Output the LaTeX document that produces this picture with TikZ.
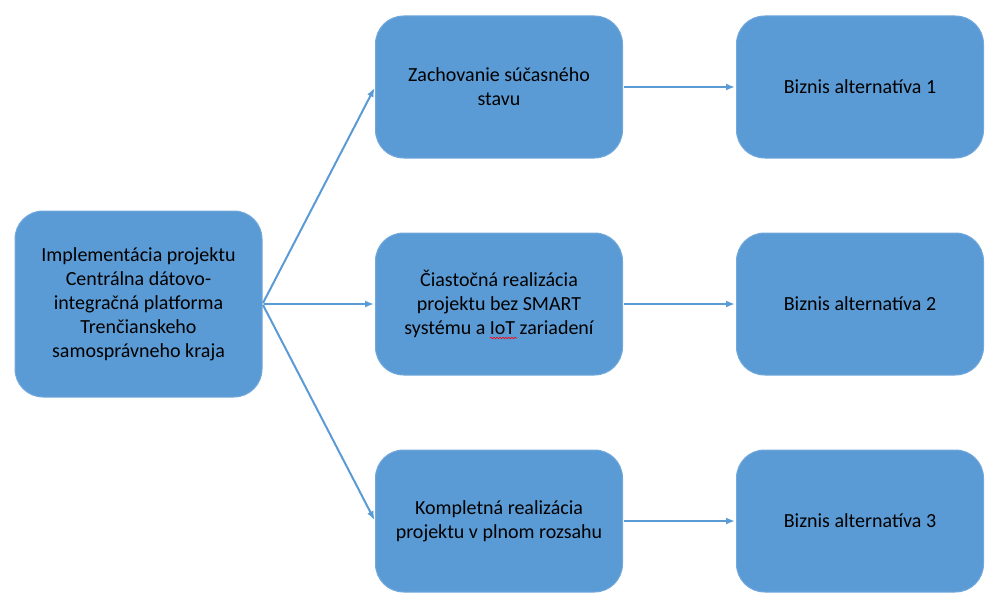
\documentclass[tikz,border=0pt]{standalone}
\usepackage{fontspec}
\setmainfont{Carlito}
\usepackage{xcolor}
\usetikzlibrary{arrows.meta, positioning, calc, decorations.pathmorphing}
\definecolor{boxblue}{HTML}{5B9BD5}
\definecolor{boxline}{HTML}{72A9DC}

\begin{document}
\begin{tikzpicture}[x=1pt, y=1pt, node distance=113pt, auto]
    % Node Styles
    \tikzstyle{option} = [rectangle, draw=boxline, line width=1pt, fill=boxblue, minimum width=247pt, minimum height=142pt, rounded corners=28pt, align=center, font=\fontsize{20}{24}\selectfont]
    \tikzstyle{project} = [option, minimum height=186pt]
    \tikzstyle{line} = [draw=boxblue, -{Latex[length=9pt, width=7pt]}, line width=2pt, shorten >=1pt, shorten <=1pt]
    \tikzstyle{spell} = [draw=red, line width=0.6pt, decorate, decoration={snake, amplitude=0.8pt, segment length=3pt}]

    \useasboundingbox (0,0) rectangle (1004,-602);

    % --- LEFT: PROJECT ---
    \node [project] (impl) at (138.5,-304) {Implementácia projektu\\Centrálna dátovo-\\integračná platforma\\Trenčianskeho\\samosprávneho kraja};

    % --- MIDDLE COLUMN: VARIANTS ---
    \node [option] (keep) at (499,-87) {Zachovanie súčasného\\stavu};
    \node [option, below=74pt of keep] (part) {Čiastočná realizácia\\projektu bez SMART\\systému a IoT zariadení};
    \node [option, below=74pt of part] (full) {Kompletná realizácia\\projektu v plnom rozsahu};

    % --- RIGHT COLUMN: ALTERNATIVES ---
    \node [option, right=of keep] (alt1) {Biznis alternatíva 1};
    \node [option, right=of part] (alt2) {Biznis alternatíva 2};
    \node [option, right=of full] (alt3) {Biznis alternatíva 3};

    % --- PATHS ---
    \path [line] (impl.east) -- (keep.west);
    \path [line] (impl.east) -- (part.west);
    \path [line] (impl.east) -- (full.west);

    \path [line] (keep) -- (alt1);
    \path [line] (part) -- (alt2);
    \path [line] (full) -- (alt3);

    % spell-check mark under IoT
    \coordinate (iot) at ($(part.center)+(-9,-34)$);
    \path [spell] (iot) -- ++(27,0);

\end{tikzpicture}
\end{document}
